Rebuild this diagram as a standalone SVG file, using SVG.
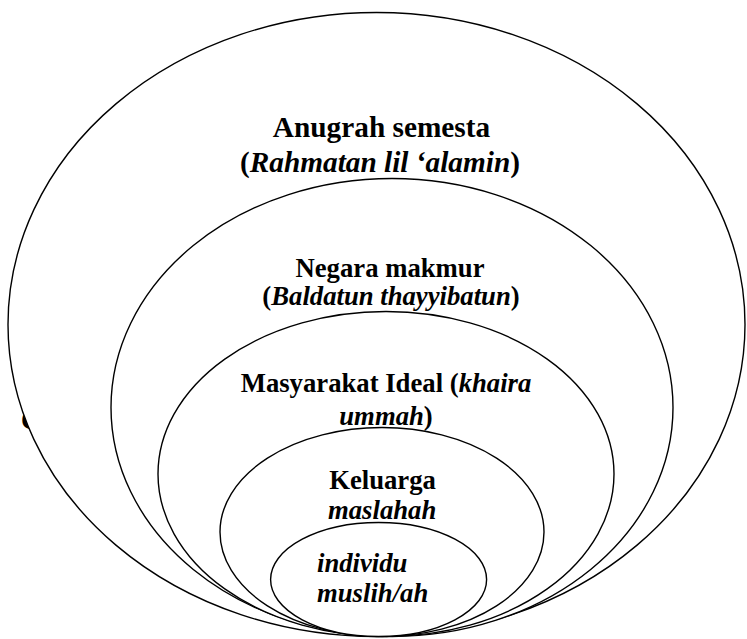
<svg xmlns="http://www.w3.org/2000/svg" width="747" height="639" viewBox="0 0 747 639">
<style>
.e{fill:#fff;stroke:#000;stroke-width:1.4}
.txt text{font-family:'Liberation Serif','Times New Roman','DejaVu Serif',serif;font-weight:bold;fill:#000}
.big{font-size:29.3px}
.t{font-size:26.7px}
.i{font-style:italic}
</style>
<defs>
<clipPath id="cc"><rect x="18" y="400" width="13" height="36"/></clipPath>
</defs>
<rect width="747" height="639" fill="#fff"/>
<g class="txt" font-family="Liberation Serif, serif">
<text class="t" x="21" y="429" clip-path="url(#cc)">C</text>
</g>
<g id="n1" class="txt" font-family="Liberation Serif, serif">
<ellipse class="e" cx="376.5" cy="324.5" rx="368.5" ry="312"/>
<text class="big" x="381.5" y="137" text-anchor="middle">Anugrah semesta</text>
<text class="big" x="380" y="172" text-anchor="middle">(<tspan class="i">Rahmatan lil ‘alamin</tspan>)</text>
</g>
<g id="n2" class="txt" font-family="Liberation Serif, serif">
<ellipse class="e" cx="392" cy="407.5" rx="281" ry="229"/>
<text class="t" x="390" y="277" text-anchor="middle">Negara makmur</text>
<text class="t" x="391" y="305" text-anchor="middle">(<tspan class="i">Baldatun thayyibatun</tspan>)</text>
</g>
<g id="n3" class="txt" font-family="Liberation Serif, serif">
<ellipse class="e" cx="386" cy="474" rx="228" ry="162.5"/>
<text class="t" x="386" y="392" text-anchor="middle">Masyarakat Ideal (<tspan class="i">khaira</tspan></text>
<text class="t" x="386" y="425" text-anchor="middle"><tspan class="i">ummah</tspan>)</text>
</g>
<g id="n4" class="txt" font-family="Liberation Serif, serif">
<ellipse class="e" cx="382" cy="532" rx="162" ry="104.5"/>
<text class="t" x="382.5" y="488.5" text-anchor="middle">Keluarga</text>
<text class="t i" x="328" y="519">maslahah</text>
</g>
<g id="n5" class="txt" font-family="Liberation Serif, serif">
<ellipse class="e" cx="378.6" cy="579.5" rx="108" ry="57"/>
<text class="t i" x="317" y="572">individu</text>
<text class="t i" x="317" y="602">muslih/ah</text>
</g>
<g id="connectors"></g>
</svg>
